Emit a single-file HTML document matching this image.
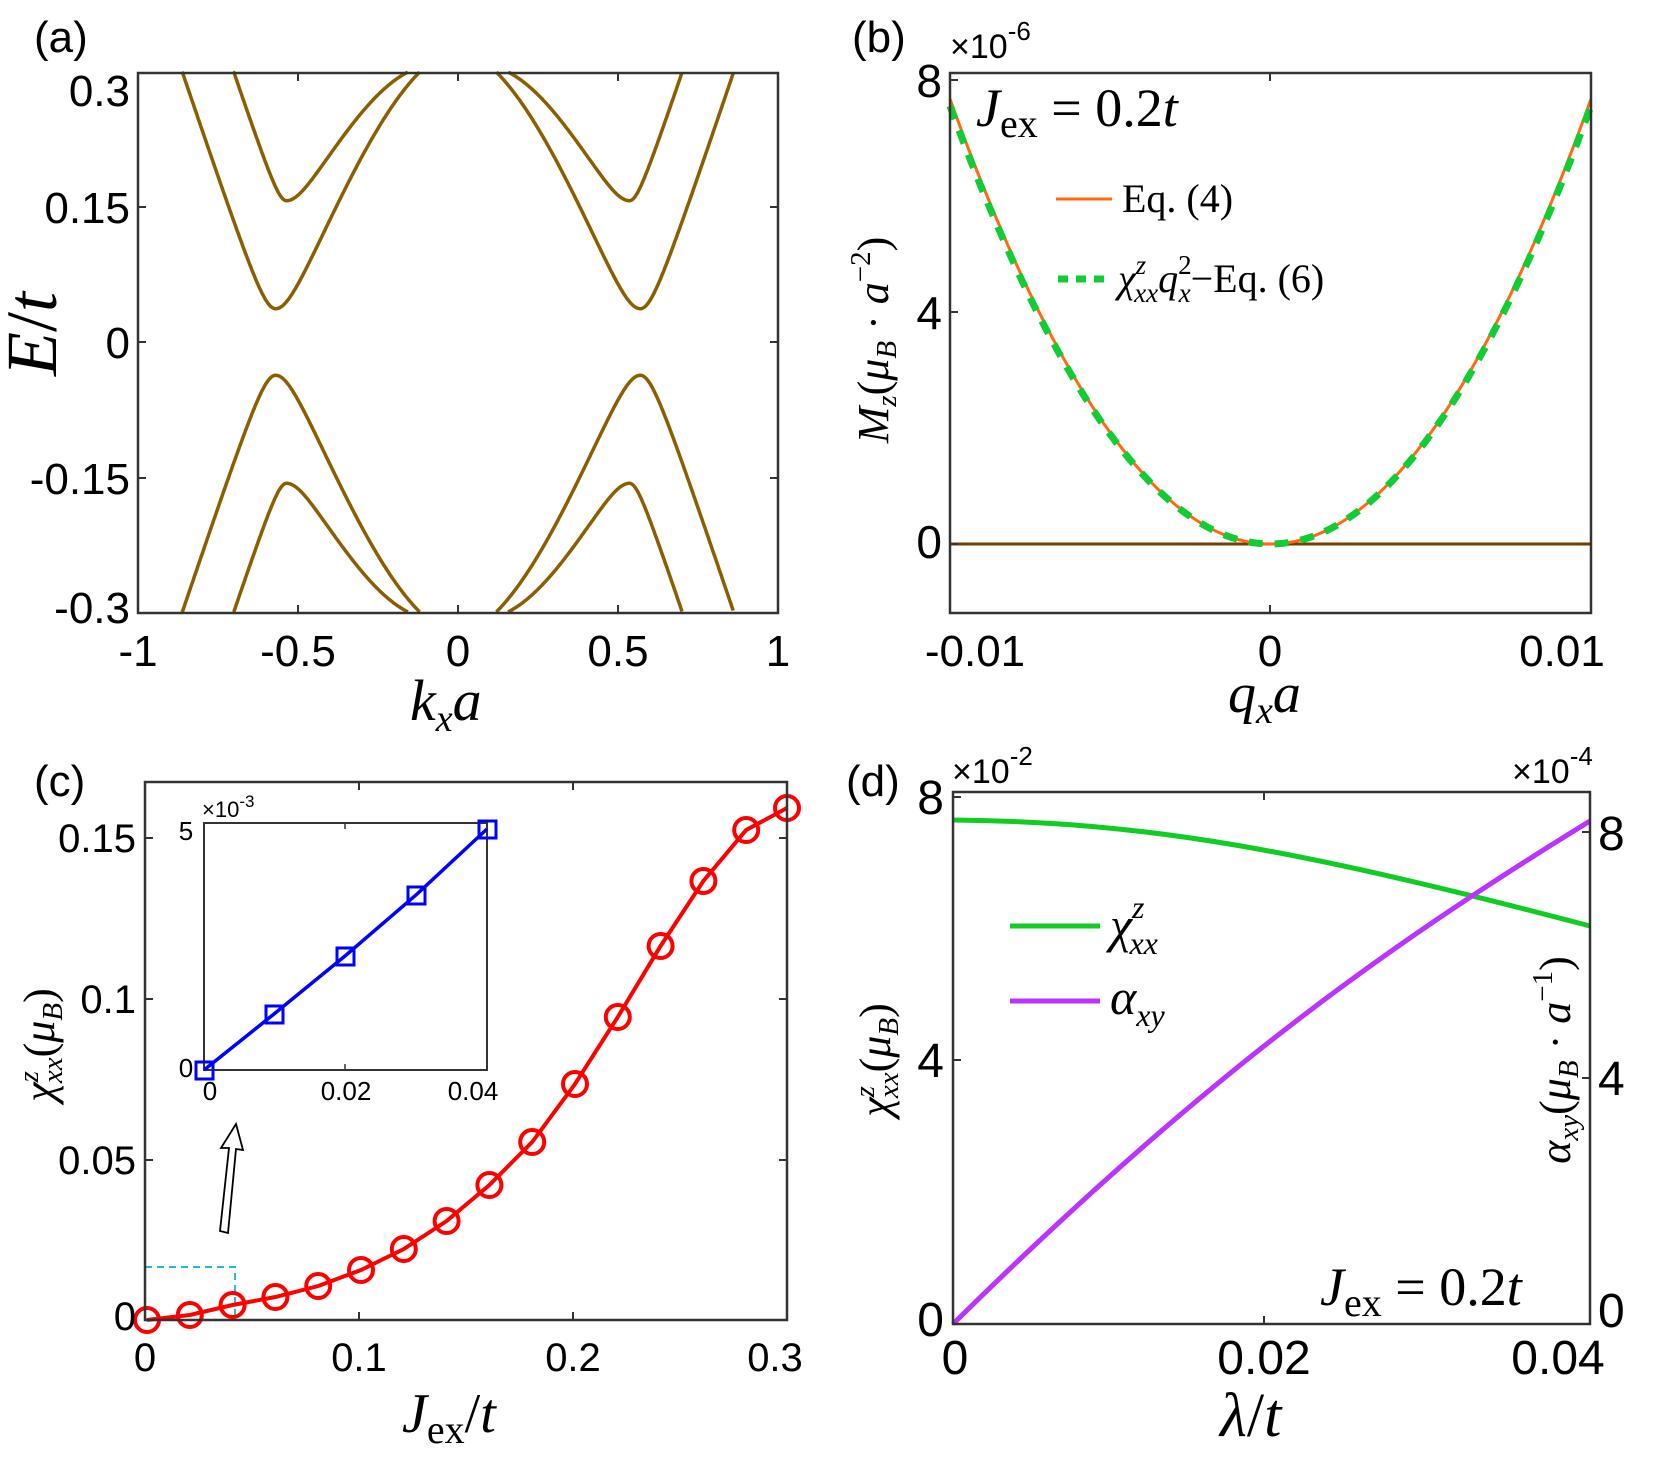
<!DOCTYPE html>
<html><head><meta charset="utf-8">
<style>
html,body{margin:0;padding:0;background:#fff}
svg{display:block}
.t{font-family:"Liberation Sans",sans-serif;fill:#000}
.m{font-family:"Liberation Serif",serif;font-style:italic;fill:#000}
.r{font-family:"Liberation Serif",serif;fill:#000}
</style></head><body>
<svg id="s" width="1662" height="1460" viewBox="0 0 1662 1460" xmlns="http://www.w3.org/2000/svg">
<rect width="1662" height="1460" fill="#fff"/>

<!-- ===== (a) ===== -->
<text class="t" x="34" y="52" font-size="44">(a)</text>
<g id="bands" fill="none" stroke="#8B5E00" stroke-width="3.5"></g>
<rect x="138" y="73" width="640" height="540" fill="none" stroke="#333" stroke-width="2.5"/>
<g stroke="#333" stroke-width="2">
<line x1="138" y1="207" x2="146" y2="207"/><line x1="138" y1="342" x2="146" y2="342"/><line x1="138" y1="478" x2="146" y2="478"/>
<line x1="778" y1="207" x2="770" y2="207"/><line x1="778" y1="342" x2="770" y2="342"/><line x1="778" y1="478" x2="770" y2="478"/>
<line x1="298" y1="613" x2="298" y2="605"/><line x1="458" y1="613" x2="458" y2="605"/><line x1="618" y1="613" x2="618" y2="605"/>
<line x1="298" y1="73" x2="298" y2="81"/><line x1="458" y1="73" x2="458" y2="81"/><line x1="618" y1="73" x2="618" y2="81"/>
</g>
<g class="t" font-size="44" text-anchor="end">
<text x="130" y="106">0.3</text><text x="130" y="223">0.15</text><text x="130" y="358">0</text><text x="130" y="494">-0.15</text><text x="130" y="623">-0.3</text>
</g>
<g class="t" font-size="44" text-anchor="middle">
<text x="138" y="666">-1</text><text x="298" y="666">-0.5</text><text x="458" y="666">0</text><text x="618" y="666">0.5</text><text x="778" y="666">1</text>
</g>
<text class="m" font-size="72" transform="translate(56,334) rotate(-90)" text-anchor="middle">E<tspan font-style="normal">/</tspan>t</text>
<text class="m" font-size="58" x="410" y="720">k<tspan font-size="38" dy="11">x</tspan><tspan dy="-11">a</tspan></text>

<!-- ===== (b) ===== -->
<text class="t" x="852" y="52" font-size="44">(b)</text>
<text class="t" x="950" y="58" font-size="34">×10<tspan font-size="26" dy="-18">-6</tspan></text>
<line x1="950" y1="544" x2="1591" y2="544" stroke="#7a3b00" stroke-width="3"/>
<path id="pb1" fill="none" stroke="#FF6A10" stroke-width="3"/>
<path id="pb2" fill="none" stroke="#11CC33" stroke-width="7" stroke-dasharray="14 12"/>
<rect x="950" y="73" width="641" height="540" fill="none" stroke="#333" stroke-width="2.5"/>
<g stroke="#333" stroke-width="2">
<line x1="1270" y1="613" x2="1270" y2="605"/><line x1="1270" y1="73" x2="1270" y2="81"/>
<line x1="950" y1="80" x2="958" y2="80"/><line x1="950" y1="312" x2="958" y2="312"/><line x1="950" y1="544" x2="958" y2="544"/>
</g>
<g class="t" font-size="46" text-anchor="end">
<text x="942" y="97">8</text><text x="942" y="329">4</text><text x="942" y="558">0</text>
</g>
<g class="t" font-size="44" text-anchor="middle">
<text x="975" y="666">-0.01</text><text x="1270" y="666">0</text><text x="1562" y="666">0.01</text>
</g>
<text class="m" font-size="56" x="1228" y="712">q<tspan font-size="38" dy="11">x</tspan><tspan dy="-11">a</tspan></text>
<text class="m" font-size="44" transform="translate(888,340) rotate(-90)" text-anchor="middle">M<tspan font-size="29" dy="8">z</tspan><tspan dy="-8" font-style="normal">(</tspan>μ<tspan font-size="29" dy="8">B</tspan><tspan dy="-8" font-style="normal"> · </tspan>a<tspan font-size="29" dy="-18" font-style="normal">−2</tspan><tspan dy="18" font-style="normal">)</tspan></text>
<text class="m" font-size="54" x="976" y="126">J<tspan font-style="normal" font-size="40" dy="11">ex</tspan><tspan font-style="normal" dy="-11"> = 0.2</tspan>t</text>
<line x1="1056" y1="199" x2="1112" y2="199" stroke="#FF6A10" stroke-width="3"/>
<text class="r" font-size="40" x="1122" y="212">Eq. (4)</text>
<line x1="1058" y1="279" x2="1108" y2="279" stroke="#11CC33" stroke-width="7" stroke-dasharray="10 8"/>
<text class="m" font-size="40" x="1118" y="292">χ<tspan font-size="27" dy="-18">z</tspan><tspan font-size="27" dx="-12" dy="28">xx</tspan><tspan dy="-10">q</tspan><tspan font-size="27" dy="-18" font-style="normal">2</tspan><tspan font-size="27" dx="-13" dy="28">x</tspan><tspan font-style="normal" dy="-10">−Eq. (6)</tspan></text>

<!-- ===== (c) ===== -->
<text class="t" x="34" y="796" font-size="44">(c)</text>
<rect x="145" y="1267" width="90" height="53" fill="none" stroke="#22BBDD" stroke-width="2" stroke-dasharray="7 5"/>
<path id="pc" fill="none" stroke="#FF0000" stroke-width="4"/>
<g id="circ" fill="none" stroke="#FF0000" stroke-width="4"></g>
<rect x="145" y="782" width="642" height="538" fill="none" stroke="#333" stroke-width="2.5"/>
<g stroke="#333" stroke-width="2">
<line x1="145" y1="838" x2="153" y2="838"/><line x1="145" y1="999" x2="153" y2="999"/><line x1="145" y1="1160" x2="153" y2="1160"/>
<line x1="787" y1="838" x2="779" y2="838"/><line x1="787" y1="999" x2="779" y2="999"/><line x1="787" y1="1160" x2="779" y2="1160"/>
<line x1="359" y1="1320" x2="359" y2="1312"/><line x1="573" y1="1320" x2="573" y2="1312"/>
<line x1="359" y1="782" x2="359" y2="790"/><line x1="573" y1="782" x2="573" y2="790"/>
</g>
<g class="t" font-size="40" text-anchor="end">
<text x="136" y="852">0.15</text><text x="136" y="1013">0.1</text><text x="136" y="1174">0.05</text><text x="136" y="1330">0</text>
</g>
<g class="t" font-size="40" text-anchor="middle">
<text x="145" y="1371">0</text><text x="359" y="1371">0.1</text><text x="573" y="1371">0.2</text><text x="775" y="1371">0.3</text>
</g>
<text class="m" font-size="56" x="402" y="1432">J<tspan font-style="normal" font-size="40" dy="11">ex</tspan><tspan font-style="normal" dy="-11">/</tspan>t</text>
<text class="m" font-size="44" transform="translate(54,1045) rotate(-90)" text-anchor="middle">χ<tspan font-size="29" dy="-16">z</tspan><tspan font-size="29" dx="-12" dy="24">xx</tspan><tspan dy="-8" font-style="normal">(</tspan>μ<tspan font-size="29" dy="8">B</tspan><tspan dy="-8" font-style="normal">)</tspan></text>
<!-- inset -->
<rect x="204" y="823" width="283" height="247" fill="#fff" stroke="#333" stroke-width="2"/>
<g stroke="#333" stroke-width="1.5"><line x1="345" y1="1070" x2="345" y2="1064"/><line x1="345" y1="823" x2="345" y2="829"/></g>
<polyline points="204,1070 274,1014 345,956 416,895 487,829" fill="none" stroke="#0000FF" stroke-width="3.5"/>
<g fill="none" stroke="#0000FF" stroke-width="3">
<rect x="196" y="1062" width="17" height="17"/><rect x="266" y="1006" width="17" height="17"/><rect x="337" y="948" width="17" height="17"/><rect x="408" y="887" width="17" height="17"/><rect x="479" y="821" width="17" height="17"/>
</g>
<g class="t" font-size="26">
<text x="186" y="840" text-anchor="middle">5</text><text x="186" y="1077" text-anchor="middle">0</text>
<text x="210" y="1100" text-anchor="middle">0</text><text x="346" y="1100" text-anchor="middle">0.02</text><text x="473" y="1100" text-anchor="middle">0.04</text>
<text x="202" y="817" font-size="22">×10<tspan font-size="17" dy="-10">-3</tspan></text>
</g>
<path d="M220,1231 L229,1148 L221,1148 L236,1124 L243,1150 L236,1149 L228,1233 Z" fill="#fff" stroke="#000" stroke-width="1.8"/>

<!-- ===== (d) ===== -->
<text class="t" x="846" y="796" font-size="44">(d)</text>
<text class="t" x="952" y="783" font-size="34">×10<tspan font-size="26" dy="-18">-2</tspan></text>
<text class="t" x="1512" y="783" font-size="34">×10<tspan font-size="26" dy="-18">-4</tspan></text>
<path id="pg" fill="none" stroke="#11CC22" stroke-width="5"/>
<path id="pp" fill="none" stroke="#BB33FF" stroke-width="5"/>
<rect x="953" y="792" width="637" height="532" fill="none" stroke="#333" stroke-width="2.5"/>
<g stroke="#333" stroke-width="2">
<line x1="1264" y1="1324" x2="1264" y2="1316"/><line x1="1264" y1="792" x2="1264" y2="800"/>
<line x1="953" y1="797" x2="961" y2="797"/><line x1="953" y1="1060" x2="961" y2="1060"/>
<line x1="1590" y1="1078" x2="1582" y2="1078"/><line x1="1590" y1="832" x2="1582" y2="832"/>
</g>
<g class="t" font-size="48">
<text x="944" y="814" text-anchor="end">8</text><text x="944" y="1077" text-anchor="end">4</text><text x="944" y="1336" text-anchor="end">0</text>
<text x="1598" y="850">8</text><text x="1598" y="1095">4</text><text x="1598" y="1327">0</text>
</g>
<g class="t" font-size="48" text-anchor="middle">
<text x="955" y="1374">0</text><text x="1264" y="1374">0.02</text><text x="1558" y="1374">0.04</text>
</g>
<text class="m" font-size="62" x="1220" y="1436">λ<tspan font-style="normal">/</tspan>t</text>
<text class="m" font-size="44" transform="translate(890,1060) rotate(-90)" text-anchor="middle">χ<tspan font-size="29" dy="-16">z</tspan><tspan font-size="29" dx="-12" dy="24">xx</tspan><tspan dy="-8" font-style="normal">(</tspan>μ<tspan font-size="29" dy="8">B</tspan><tspan dy="-8" font-style="normal">)</tspan></text>
<text class="m" font-size="44" transform="translate(1570,1060) rotate(-90)" text-anchor="middle">α<tspan font-size="29" dy="8">xy</tspan><tspan dy="-8" font-style="normal">(</tspan>μ<tspan font-size="29" dy="8">B</tspan><tspan dy="-8" font-style="normal"> · </tspan>a<tspan font-size="29" dy="-18" font-style="normal">−1</tspan><tspan dy="18" font-style="normal">)</tspan></text>
<line x1="1010" y1="926" x2="1100" y2="926" stroke="#11CC22" stroke-width="5"/>
<text class="m" font-size="50" x="1110" y="942">χ<tspan font-size="32" dy="-24">z</tspan><tspan font-size="32" dx="-15" dy="36">xx</tspan></text>
<line x1="1010" y1="1001" x2="1100" y2="1001" stroke="#BB33FF" stroke-width="5"/>
<text class="m" font-size="50" x="1110" y="1014">α<tspan font-size="32" dy="12">xy</tspan></text>
<text class="m" font-size="54" x="1320" y="1305">J<tspan font-style="normal" font-size="40" dy="11">ex</tspan><tspan font-style="normal" dy="-11"> = 0.2</tspan>t</text>
</svg>
<script>
(function(){
var NS="http://www.w3.org/2000/svg";
function X(k){return 458+k*320;} function Y(E){return 342-E*900;}
// p: [k0(neg),E0,D,s_outer,s_inner,b_inner,dkmax_inner]
function band(p,m,sign){
 var d="",first=true,c=m*p[0];
 for(var i=0;i<=600;i++){
  var k=-1+2*i/600;
  var dk=(k-c)*(m>0?1:-1);
  var E;
  if(dk<0){var s=p[3];E=p[1]+Math.sqrt(p[2]*p[2]+s*s*dk*dk)-p[2];}
  else{
   if(dk>p[6])continue;
   var s=p[4];E=p[1]+Math.sqrt(p[2]*p[2]+s*s*dk*dk)-p[2]-p[5]*dk*dk*dk;}
  if(E>0.3)E=0.3;
  if(dk<0 && E>=0.3 && !first) {}
  if(dk<0 && E>=0.3){ // outer beyond top: only keep last point
    var kk=k,found=false; 
    // skip until near top
    var dkn=(k+2/600-c)*(m>0?1:-1); var s2=p[3];
    var En=p[1]+Math.sqrt(p[2]*p[2]+s2*s2*dkn*dkn)-p[2];
    if(En>=0.3)continue;
  }
  d+=(first?"M":"L")+X(k).toFixed(1)+","+Y(sign*E).toFixed(1)+" ";first=false;
 }
 return d;
}
var g=document.getElementById("bands");
var specs=[[-0.57,0.037,0.05,1.06,0.85,0.80,0.45],[-0.536,0.157,0.035,1.06,0.60,0.96,0.381]];
specs.forEach(function(p){
 [1,-1].forEach(function(sg){
  [1,-1].forEach(function(m){
   var path=document.createElementNS(NS,"path");
   path.setAttribute("d",band(p,m,sg));
   g.appendChild(path);
  });
 });
});
// (b)
function pb(off){var d="";for(var i=0;i<=100;i++){var x=950+641*i/100,u=(x-1270.5)/320.5;var y=544-(off)*u*u;d+=(i?"L":"M")+x.toFixed(1)+","+y.toFixed(1)+" ";}return d;}
document.getElementById("pb1").setAttribute("d",pb(445));
document.getElementById("pb2").setAttribute("d",pb(438));
// (c)
var ys=[1320,1315,1305,1297,1286,1270,1249,1221,1185,1142,1084,1017,946,881,830,808];
var pts=[];for(var i=0;i<16;i++){pts.push([147+i*42.8,ys[i]]);}
pts[15][0]=787;
var d="M"+pts[0].join(",");
for(var i=1;i<pts.length;i++){d+=" L"+pts[i].join(",");}
document.getElementById("pc").setAttribute("d",d);
var cg=document.getElementById("circ");
pts.forEach(function(p){var c=document.createElementNS(NS,"circle");c.setAttribute("cx",p[0]);c.setAttribute("cy",p[1]);c.setAttribute("r",12);cg.appendChild(c);});
// (d)
document.getElementById("pg").setAttribute("d","M953,820 C1150,822 1300,850 1590,926");
document.getElementById("pp").setAttribute("d","M953,1324 C1200,1080 1380,950 1590,821");
})();
</script>
</body></html>
